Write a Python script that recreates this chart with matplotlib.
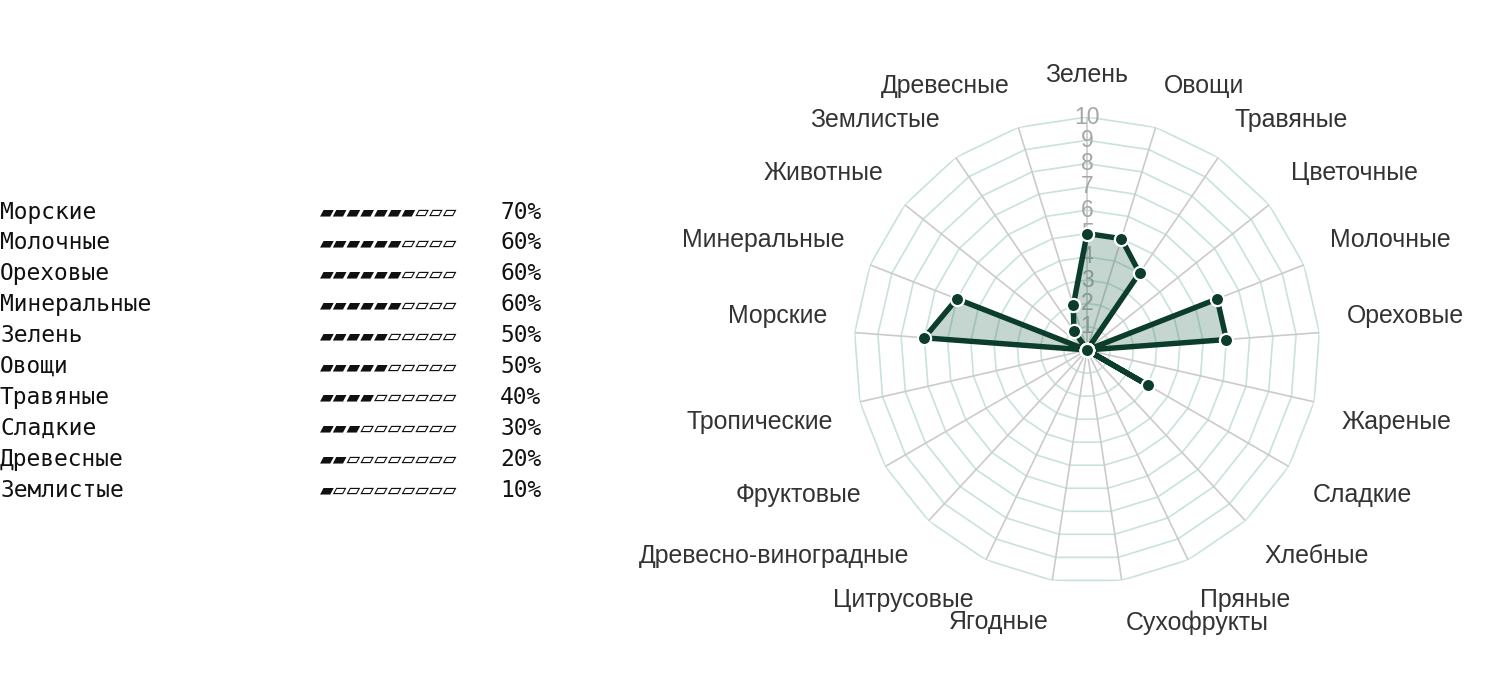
import numpy as np
import matplotlib
matplotlib.use("Agg")
import matplotlib.pyplot as plt

# ---------------- data ----------------
categories = ["Зелень", "Овощи", "Травяные", "Цветочные", "Молочные", "Ореховые",
              "Жареные", "Сладкие", "Хлебные", "Пряные", "Сухофрукты", "Ягодные",
              "Цитрусовые", "Древесно-виноградные", "Фруктовые", "Тропические",
              "Морские", "Минеральные", "Животные", "Землистые", "Древесные"]
values = [5, 5, 4, 0, 6, 6, 0, 3, 0, 0, 0, 0, 0, 0, 0, 0, 7, 6, 0, 1, 2]
ring_ticks = [1, 2, 3, 4, 5, 6, 7, 8, 9, 10]

# legend: top entries sorted by value (stable)
order = sorted([i for i, v in enumerate(values) if v > 0], key=lambda i: -values[i])
legend_labels = [categories[i] for i in order]
legend_values = [values[i] * 10 for i in order]

# ---------------- style ----------------
DARK = "#0c3d2b"
FILL = "#3c7a62"
RING = "#c8e3d9"
SPOKE = "#cbcbcb"
TICK = "#a6a6a6"
LABEL = "#333333"
SANS = ["Liberation Sans", "DejaVu Sans"]
MONO = ["DejaVu Sans Mono", "DejaVu Sans"]

W, H = 1500, 700
fig = plt.figure(figsize=(15, 7), dpi=100)

cx, cy, rad = 1087, 350, 233
ax = fig.add_axes([(cx - rad) / W, (H - cy - rad) / H, 2 * rad / W, 2 * rad / H],
                  projection="polar")
ax.set_theta_zero_location("N")
ax.set_theta_direction(-1)
ax.set_ylim(0, 10)
ax.grid(False)
ax.set_xticks([])
ax.set_yticks([])
ax.spines["polar"].set_visible(False)
ax.patch.set_alpha(0)

n = len(categories)
angles = np.arange(n) * 2 * np.pi / n
closed_a = np.append(angles, angles[0])

# rings (polygon grid)
for r in ring_ticks:
    ax.plot(closed_a, [r] * (n + 1), color=RING, lw=1.2, zorder=1)
# spokes
for a in angles:
    ax.plot([a, a], [0, ring_ticks[-1]], color=SPOKE, lw=1.2, zorder=1)

# tick labels on top spoke
for r in ring_ticks:
    ax.text(0, r, str(r), ha="center", va="center", color=TICK,
            fontsize=16.5, family=SANS, zorder=2)

# data
closed_v = values + values[:1]
ax.fill(closed_a, closed_v, color=FILL, alpha=0.3, lw=0, zorder=3)
ax.plot(closed_a, closed_v, color=DARK, lw=3.9, solid_joinstyle="round", zorder=4)
ax.plot(angles, values, "o", ms=9.5, mfc=DARK, mec="white", mew=1.6, zorder=5,
        linestyle="none")

# category labels (chart.js-like alignment)
R_LABEL = 11.2
HALF = 14.4
for a, name in zip(angles, categories):
    deg = np.degrees(a) % 360
    if np.isclose(deg, 0) or np.isclose(deg, 180):
        ha = "center"
    elif deg < 180:
        ha = "left"
    else:
        ha = "right"
    if np.isclose(deg, 90) or np.isclose(deg, 270):
        dy = 0
    elif deg < 90 or deg > 270:
        dy = HALF
    else:
        dy = -HALF
    ax.annotate(name, xy=(a, R_LABEL), xytext=(0, dy), textcoords="offset pixels",
                ha=ha, va="center", fontsize=17.9, color=LABEL, family=SANS,
                annotation_clip=False)

# ---------------- left text legend ----------------
y0, dy_row = 212, 30.9
for i, (lab, v) in enumerate(zip(legend_labels, legend_values)):
    y = 1 - (y0 + i * dy_row) / H
    k = v // 10
    bar = "\u25b0" * k + "\u25b1" * (10 - k)
    fig.text(0 / W, y, lab, ha="left", va="center", fontsize=16.5, family=MONO,
             color="#111111")
    fig.text(320 / W, y, bar, ha="left", va="center", fontsize=16.5, family=MONO,
             color="#111111")
    fig.text(500 / W, y, f"{v}%", ha="left", va="center", fontsize=16.5, family=MONO,
             color="#111111")

fig.savefig("out.png", dpi=100, facecolor="white")
